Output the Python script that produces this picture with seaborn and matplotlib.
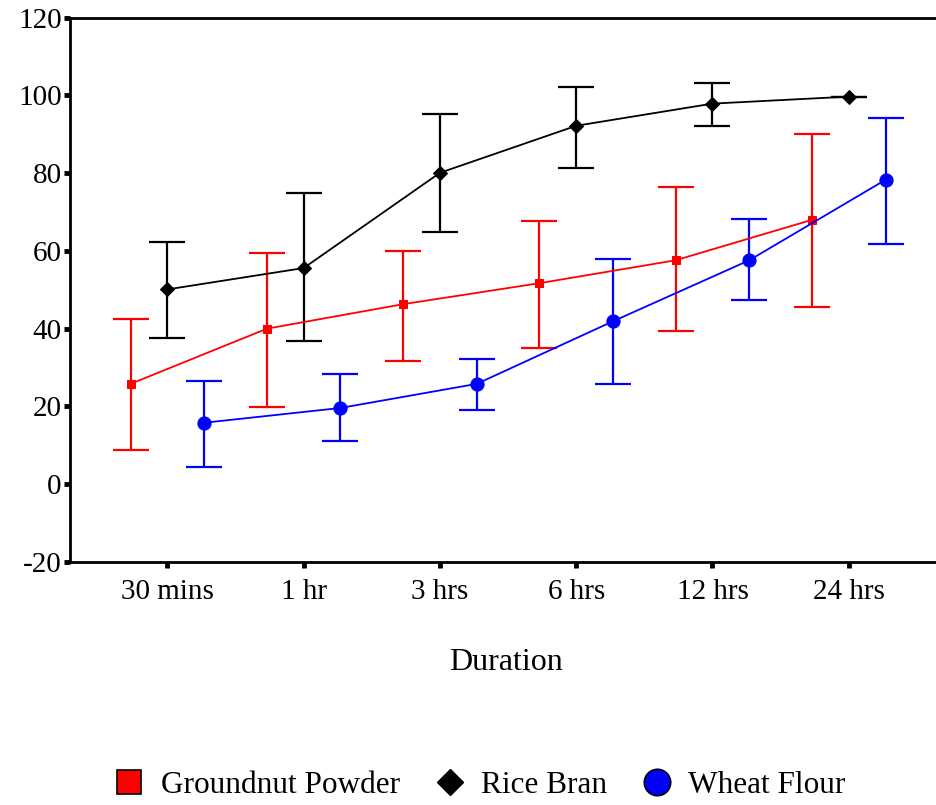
import numpy as np
import pandas as pd
import matplotlib
matplotlib.use("Agg")
import matplotlib.pyplot as plt
from matplotlib.lines import Line2D
import seaborn as sns

categories = ["30 mins", "1 hr", "3 hrs", "6 hrs", "12 hrs", "24 hrs"]

groundnut = [25.8, 40.0, 46.3, 51.7, 57.6, 68.0]
groundnut_hi = [42.4, 59.4, 60.0, 67.7, 76.5, 90.2]
groundnut_lo = [8.8, 19.9, 31.8, 35.1, 39.3, 45.5]

rice = [50.1, 55.6, 80.1, 92.2, 97.9, 99.7]
rice_hi = [62.3, 74.9, 95.1, 102.1, 103.1, 99.7]
rice_lo = [37.5, 36.7, 64.9, 81.4, 92.2, 99.7]

wheat = [15.8, 19.6, 25.8, 41.9, 57.6, 78.3]
wheat_hi = [26.6, 28.4, 32.3, 57.9, 68.2, 94.1]
wheat_lo = [4.4, 11.1, 19.1, 25.8, 47.5, 61.8]

series_names = ["Groundnut Powder", "Rice Bran", "Wheat Flour"]

sns.set_theme(style="white")
plt.rcParams["font.family"] = ["Liberation Serif", "DejaVu Serif"]
plt.rcParams["axes.unicode_minus"] = False
plt.rcParams["text.color"] = "black"
plt.rcParams["axes.labelcolor"] = "black"

fig = plt.figure(figsize=(9.37, 8.05), dpi=100)
ax = fig.add_axes([0.0747, 0.302, 0.93, 0.676])

offsets = {"Groundnut Powder": -0.27, "Rice Bran": 0.0, "Wheat Flour": 0.27}
colors = {"Groundnut Powder": "#ff0000", "Rice Bran": "#000000", "Wheat Flour": "#0000ff"}
markers = {"Groundnut Powder": "s", "Rice Bran": "D", "Wheat Flour": "o"}
msizes = {"Groundnut Powder": 5.5, "Rice Bran": 7, "Wheat Flour": 9.5}
vals = {"Groundnut Powder": (groundnut, groundnut_lo, groundnut_hi),
        "Rice Bran": (rice, rice_lo, rice_hi),
        "Wheat Flour": (wheat, wheat_lo, wheat_hi)}

rows = []
for name in series_names:
    y, lo, hi = vals[name]
    for i, cat in enumerate(categories):
        rows.append({"series": name, "x": i + offsets[name], "y": y[i],
                     "lo": lo[i], "hi": hi[i]})
df = pd.DataFrame(rows)

for name in series_names:
    d = df[df.series == name]
    ax.errorbar(d["x"], d["y"], yerr=[d["y"] - d["lo"], d["hi"] - d["y"]],
                fmt="none", ecolor=colors[name], elinewidth=1.6, capsize=13,
                capthick=1.6, zorder=2)
    sns.lineplot(data=d, x="x", y="y", color=colors[name], marker=markers[name],
                 markersize=msizes[name], markeredgecolor=colors[name],
                 linewidth=1.3, ax=ax, sort=False, zorder=3, legend=False)

ax.set_xlim(-0.715, 5.68)
ax.set_ylim(-20, 120)
ax.set_xticks(range(len(categories)))
ax.set_xticklabels(categories)
ax.set_yticks(np.arange(-20, 121, 20))
ax.set_xlabel("Duration", fontsize=23, labelpad=31, color="black")
ax.set_ylabel("")
ax.tick_params(axis="both", direction="out", length=4, width=3.5, color="black",
               labelsize=21, bottom=True, left=True, labelcolor="black")
ax.tick_params(axis="y", pad=2)
ax.tick_params(axis="x", pad=8)
for s in ["left", "bottom", "top"]:
    ax.spines[s].set_visible(True)
    ax.spines[s].set_color("black")
    ax.spines[s].set_linewidth(2)
ax.spines["right"].set_visible(False)
ax.grid(False)

handles = [Line2D([], [], linestyle="none", marker="s", markersize=17,
                  markerfacecolor="#ff0000", markeredgecolor="black", markeredgewidth=1.2),
           Line2D([], [], linestyle="none", marker="D", markersize=13,
                  markerfacecolor="black", markeredgecolor="black"),
           Line2D([], [], linestyle="none", marker="o", markersize=19,
                  markerfacecolor="#0000ff", markeredgecolor="black", markeredgewidth=1.2)]
fig.legend(handles, series_names, loc="center", bbox_to_anchor=(0.512, 0.024),
           ncol=3, frameon=False, fontsize=22.5, handletextpad=0.5,
           columnspacing=1.1, handlelength=1.0, labelcolor="black")

fig.savefig("out.png", dpi=100, facecolor="white")
